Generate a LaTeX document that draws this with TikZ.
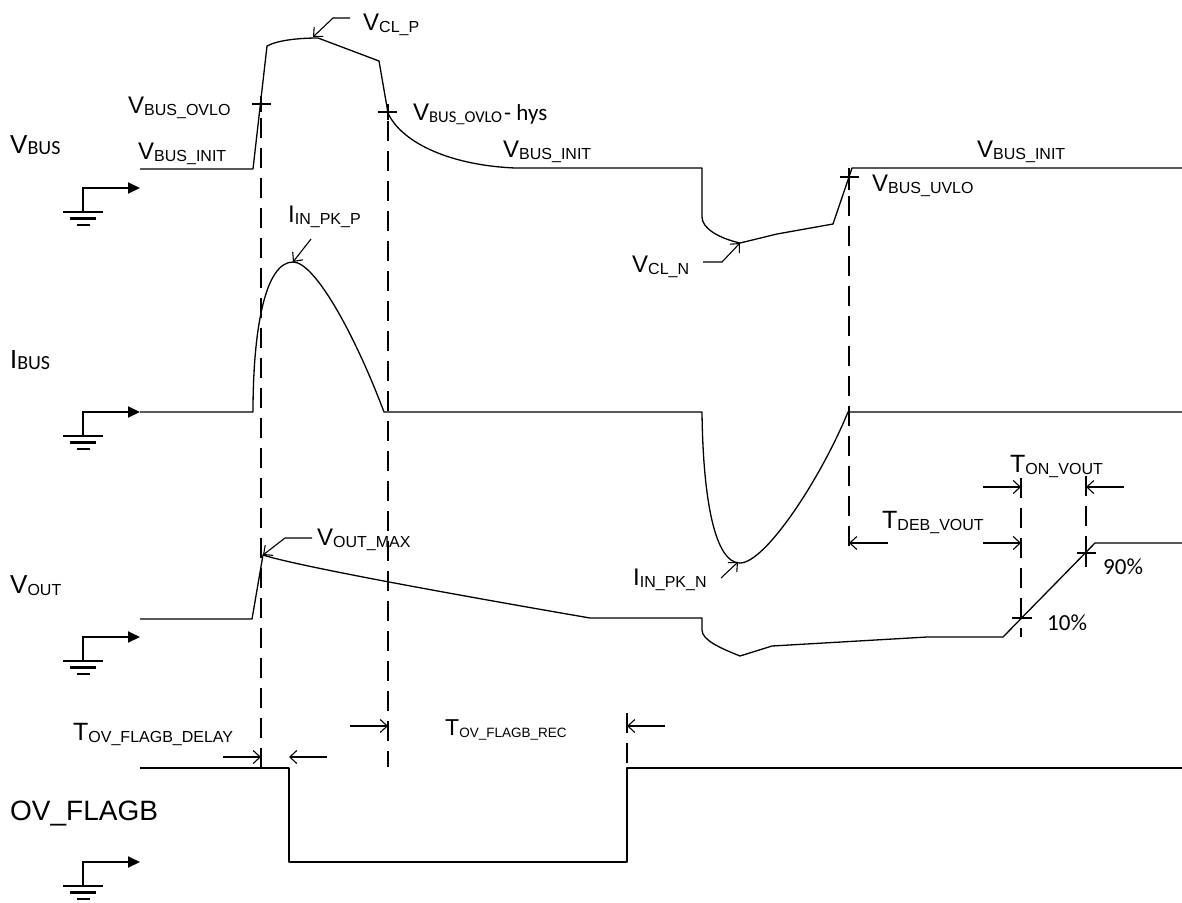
\documentclass[tikz,border=0pt]{standalone}
\usepackage{fontspec}
\setmainfont{Liberation Sans}
\newfontfamily\calib{Carlito}
\usetikzlibrary{arrows.meta}
\newcommand\fs[1]{\fontsize{#1}{#1}\selectfont}
\newcommand\sub[3][2pt]{\raisebox{-#1}{\fontsize{#2}{#2}\selectfont #3}}
\begin{document}
\begin{tikzpicture}[x=1pt,y=-1pt,
  wave/.style={line width=1.3pt, line join=round},
  guide/.style={line width=1.1pt, dash pattern=on 20pt off 10pt},
  tickmark/.style={line width=1.1pt},
  pointer/.style={line width=1.1pt, -{Straight Barb[length=7pt,width=13pt]}},
  gndline/.style={line width=2.2pt},
  gndarrow/.style={line width=2pt, -{Triangle[length=12pt,width=11pt]}},
  txt/.style={inner sep=0pt, anchor=base west}]
\useasboundingbox (0,0) rectangle (1182,902);

% ground references
\foreach \g [count=\i] in {188,412,637,862} {
  \coordinate (gt\i) at (83,\g+24);
  \coordinate (gc\i) at (83,\g);
  \coordinate (ga\i) at (140,\g);
  \draw[gndarrow] (gt\i) -- (gc\i) -- (ga\i);
  \draw[gndline] (63,\g+24) -- (103,\g+24);
  \draw[gndline] (70,\g+30.5) -- (96,\g+30.5);
  \draw[gndline] (77,\g+37) -- (90,\g+37);
}

% signal names
\node[txt] (nvbus) at (10,153) {\fs{26}V\sub[1pt]{20}{\calib BUS}};
\node[txt] (nibus) at (10,368) {\calib\fs{28}I\sub[1pt]{20}{BUS}};
\node[txt] (nvout) at (10,593) {\fs{26}V\sub{16}{OUT}};
\node[txt] (nflag) at (10,820) {\fs{28}OV\_FLAGB};

% VBUS waveform
\draw[wave] (ga1 |- 0,169) -- (253,169) -- (267,46)
  .. controls (278,40) and (300,38) .. (318,38) -- (379,61) -- (388,113)
  .. controls (400,140) and (445,165) .. (515,168) -- (702,168) -- (702,217)
  .. controls (702,228) and (718,238) .. (740,243) -- (777,234) -- (833,224)
  -- (852,168) -- (1182,168);

% IBUS waveform
\draw[wave] (ga2) -- (253,412) .. controls (253,330) and (265,262) .. (293,262)
  .. controls (315,262) and (355,335) .. (384,412) -- (702,412)
  .. controls (703,500) and (715,563) .. (740,563)
  .. controls (765,563) and (820,480) .. (848,412) -- (1182,412);

% VOUT waveform
\draw[wave] (ga3 |- 0,619) -- (252,619) -- (263,555)
  .. controls (300,567) and (480,599) .. (590,618) -- (702,618) -- (702,630)
  .. controls (702,640) and (720,648) .. (740,656) -- (772,646) -- (927,637)
  -- (1003,637) -- (1095,543) -- (1182,543);

% OV_FLAGB waveform
\draw[wave] (ga4 |- 0,768) -- (289,768) -- (289,862) -- (627,862) -- (627,768) -- (1182,768);

% tick marks
\draw[tickmark] (252,104) -- (271,104) (261,96) -- (261,112);
\draw[tickmark] (378,112) -- (397,112) (388,104) -- (388,120);
\draw[tickmark] (840,177) -- (859,177) (849,168) -- (849,190);
\draw[tickmark] (1012,618) -- (1032,618);
\draw[tickmark] (1077,553) -- (1096,553) (1086,540) -- (1086,567);

% dashed guides
\draw[guide] (261,118) -- (261,768);
\draw[guide] (388,121) -- (388,767);
\draw[guide] (849,196) -- (849,553);
\draw[guide] (1021,478) -- (1021,637);
\draw[guide] (1086,476) -- (1086,540);
\draw[guide] (627,713) -- (627,768);

% timing arrows
\draw[pointer] (223,757) -- (261,757);
\draw[pointer] (327,757) -- (289,757);
\draw[pointer] (350,726) -- (388,726);
\draw[pointer] (665,726) -- (627,726);
\draw[pointer] (888,543) -- (849,543);
\draw[pointer] (983,543) -- (1021,543);
\draw[pointer] (983,487) -- (1021,487);
\draw[pointer] (1124,487) -- (1086,487);

% pointer leaders
\draw[pointer] (350,18) -- (333,18) -- (313,37);
\draw[pointer] (312,538) -- (285,538) -- (263,555);
\draw[pointer] (311,239) -- (293,262);
\draw[pointer] (703,262) -- (722,262) -- (740,243);
\draw[pointer] (721,578) -- (738,562);

% labels
\node[txt] (lclp) at (363,30) {\fs{24}V\sub{16}{CL\_P}};
\node[txt] (lovlo) at (128,113) {\fs{24}V\sub{16}{BUS\_OVLO}};
\node[txt] (linit1) at (138,159) {\fs{24}V\sub{16}{BUS\_INIT}};
\node[txt] (lhys) at (413,120) {\fs{24}V\sub{16.5}{\calib BUS\_OVLO}\hspace{2pt}{\calib\fs{23}- hys}};
\node[txt] (linit2) at (503,157) {\fs{24}V\sub{16}{BUS\_INIT}};
\node[txt] (linit3) at (977,157) {\fs{24}V\sub{16}{BUS\_INIT}};
\node[txt] (luvlo) at (872,191) {\fs{24}V\sub{16}{BUS\_UVLO}};
\node[txt] (lcln) at (632,272) {\fs{24}V\sub{16}{CL\_N}};
\node[txt] (lpkp) at (288,222) {\fs{24}I\sub{16}{IN\_PK\_P}};
\node[txt] (lpkn) at (633,585) {\fs{24}I\sub{16}{IN\_PK\_N}};
\node[txt] (lvmax) at (317,545) {\fs{24}V\sub{16}{OUT\_MAX}};
\node[txt] (ldeb) at (882,528) {\fs{25}T\sub{16}{DEB\_VOUT}};
\node[txt] (lton) at (1010,472) {\fs{25}T\sub{16}{ON\_VOUT}};
\node[txt] (l10) at (1047,630) {\calib\fs{23}10\%};
\node[txt] (l90) at (1103,574) {\calib\fs{23}90\%};
\node[txt] (ldly) at (73,740) {\fs{25}T\sub{16}{OV\_FLAGB\_DELAY}};
\node[txt] (lrec) at (445,735) {\fs{23}T\sub{13.5}{OV\_FLAGB\_REC}};
\end{tikzpicture}
\end{document}
